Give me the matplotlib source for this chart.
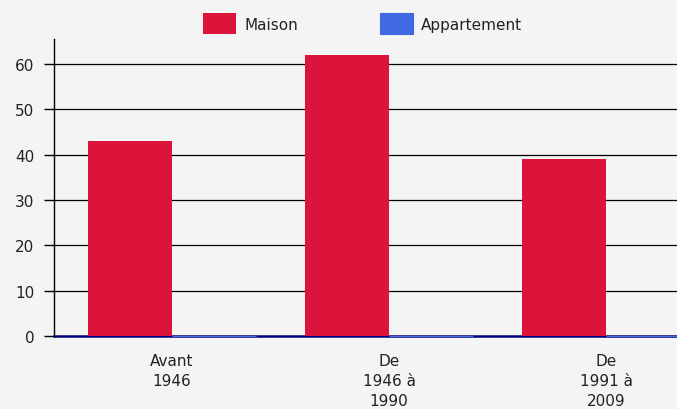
import matplotlib
matplotlib.use('Agg')
import matplotlib.pyplot as plt
import numpy as np

# data
categories = ['Avant\n1946', 'De\n1946 à\n1990', 'De\n1991 à\n2009']
maison = [43, 62, 39]
appartement = [0, 0, 0]
yticks = [0, 10, 20, 30, 40, 50, 60]

bg = '#f4f4f4'
plt.rcParams['font.family'] = 'DejaVu Sans'

fig = plt.figure(figsize=(6.77, 4.10), dpi=100, facecolor=bg)
ax = fig.add_axes([0.0798, 0.178, 0.9202, 0.724], facecolor=bg)

x = np.arange(len(categories))
w = 0.387
ax.set_axisbelow(True)
for yv in yticks[1:]:
    ax.axhline(yv, color='black', lw=0.9, zorder=0)
ax.axhline(0, color='#000080', lw=1.8, zorder=1, clip_on=False)
ax.bar(x - w / 2, maison, w, color='#dc143c', label='Maison', zorder=2)
ax.bar(x + w / 2, appartement, w, color='#4169e1', edgecolor='#4169e1',
       linewidth=0.8, label='Appartement', zorder=3, clip_on=False)

ax.set_xlim(-0.544, 2.327)
ax.set_ylim(0, 65.5)
ax.set_yticks(yticks)
ax.set_xticks(x)
ax.set_xticklabels(categories, fontsize=11, color='#222222', va='top',
                   linespacing=1.45)
ax.tick_params(axis='x', length=0, pad=12)
ax.tick_params(axis='y', length=7, width=1, labelsize=11, labelcolor='#222222', pad=7)
for s in ['top', 'right', 'bottom']:
    ax.spines[s].set_visible(False)
ax.spines['left'].set_linewidth(1)

leg = fig.legend(loc='center', bbox_to_anchor=(0.5355, 0.940), ncol=2,
                 frameon=False, fontsize=11, handlelength=2.16, handleheight=1.73,
                 handletextpad=0.52, columnspacing=5.36, borderpad=0)
for t in leg.get_texts():
    t.set_color('#222222')

fig.savefig('out.png', dpi=100, facecolor=bg)
